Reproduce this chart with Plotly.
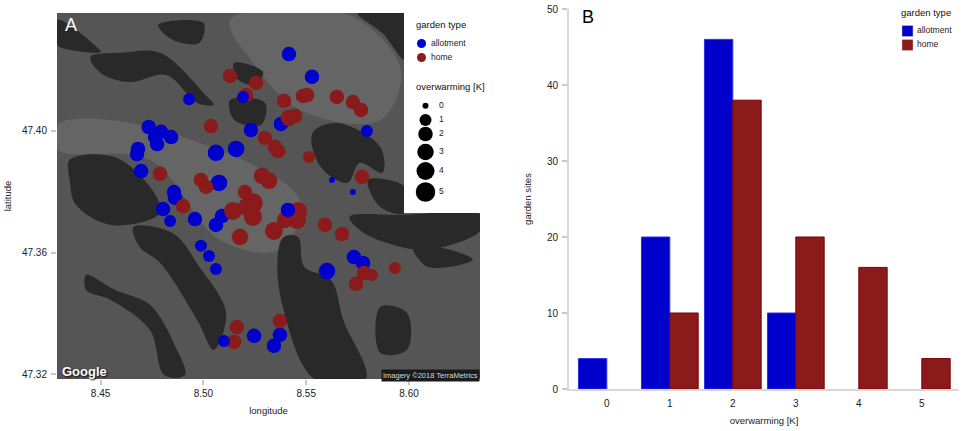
import plotly.graph_objects as go

BLUE = '#0000cd'
RED = '#8b1a1a'
FONT = 'Liberation Sans'

# panel A, sites (size class = overwarming in K)
allot_lon = [8.4930, 8.4734, 8.4794, 8.4765, 8.4843, 8.4775, 8.4682, 8.4677, 8.4697, 8.5061, 8.5159,
             8.5231, 8.5076, 8.4857, 8.4862, 8.4804, 8.4838, 8.4959, 8.5061, 8.5090, 8.4988, 8.5027,
             8.5061, 8.5246, 8.5372, 8.5343, 8.5601, 8.5732, 8.5776, 8.5416, 8.5528, 8.5377, 8.5795,
             8.5625, 8.5727]
allot_lat = [47.4104, 47.4013, 47.3997, 47.3980, 47.3980, 47.3957, 47.3941, 47.3924, 47.3868, 47.3928, 47.3941,
             47.4003, 47.3829, 47.3799, 47.3780, 47.3743, 47.3704, 47.3710, 47.3691, 47.3720, 47.3622, 47.3589,
             47.3546, 47.3326, 47.3329, 47.3293, 47.3539, 47.3585, 47.3566, 47.4253, 47.4178, 47.4023, 47.4000,
             47.3839, 47.3799]
allot_k = [1, 2, 2, 2, 2, 2, 2, 2, 2, 3, 3,
           2, 3, 2, 2, 2, 1, 2, 2, 2, 1, 1,
           1, 2, 2, 2, 3, 2, 2, 2, 2, 2, 1,
           0, 0]

home_lon = [8.5129, 8.5256, 8.5207, 8.5037, 8.5299, 8.5348, 8.5363, 8.4789, 8.4988, 8.5013, 8.5202,
            8.5285, 8.5319, 8.4901, 8.5144, 8.5241, 8.5212, 8.5392, 8.5484, 8.5504, 8.5649, 8.5727,
            8.5766, 8.5416, 8.5445, 8.5513, 8.5771, 8.5460, 8.5455, 8.5397, 8.5241, 8.5343, 8.5178,
            8.5591, 8.5674, 8.5781, 8.5819, 8.5742, 8.5931, 8.5372, 8.5163, 8.5149]
home_lat = [47.4181, 47.4158, 47.4118, 47.4016, 47.3977, 47.3947, 47.3934, 47.3859, 47.3839, 47.3816, 47.3799,
            47.3852, 47.3836, 47.3753, 47.3737, 47.3763, 47.3750, 47.4099, 47.4115, 47.4118, 47.4112, 47.4095,
            47.4069, 47.4043, 47.4049, 47.3914, 47.3849, 47.3737, 47.3707, 47.3707, 47.3717, 47.3671, 47.3651,
            47.3691, 47.3661, 47.3533, 47.3526, 47.3497, 47.3549, 47.3375, 47.3355, 47.3306]
home_k = [2, 2, 2, 2, 2, 2, 2, 2, 2, 2, 2,
          3, 3, 2, 4, 5, 4, 2, 2, 2, 2, 2,
          2, 3, 2, 1, 2, 4, 4, 3, 4, 4, 3,
          2, 2, 2, 1, 2, 1, 2, 2, 2]

# allotments that sit on top of the home gardens
top_lon = [8.5193, 8.5100, 8.5411]
top_lat = [47.4112, 47.3309, 47.3740]
top_k = [1, 1, 2]

k_px = {0: 6, 1: 12, 2: 14.5, 3: 16.5, 4: 18, 5: 19.5}

# panel B
overwarming = [0, 1, 2, 3, 4, 5]
allot_counts = [4, 20, 46, 10, None, None]
home_counts = [None, 10, 38, 20, 16, 4]

# rough shapes of the satellite backdrop
forest_lon = [8.429, 8.447, 8.450, 8.435, 8.429, 8.429, None,
              8.445, 8.460, 8.479, 8.501, 8.505, 8.497, 8.482, 8.464, 8.450, 8.445, None,
              8.478, 8.500, 8.498, 8.485, 8.478, None,
              8.435, 8.458, 8.478, 8.478, 8.455, 8.438, 8.435, 8.435, None,
              8.466, 8.485, 8.498, 8.511, 8.505, 8.497, 8.479, 8.469, 8.466, None,
              8.443, 8.457, 8.474, 8.486, 8.491, 8.481, 8.474, 8.455, 8.443, 8.443, None,
              8.553, 8.565, 8.586, 8.587, 8.576, 8.570, 8.557, 8.553, None,
              8.575, 8.598, 8.598, 8.587, 8.575, None,
              8.580, 8.598, 8.598, 8.586, 8.580, None,
              8.571, 8.596, 8.635, 8.635, 8.609, 8.589, 8.576, 8.571, None,
              8.586, 8.599, 8.599, 8.586, 8.586, None,
              8.602, 8.620, 8.631, 8.609, 8.602, None,
              8.513, 8.530, 8.528, 8.515, 8.513, None,
              8.515, 8.529, 8.525, 8.516, 8.515, None,
              8.539, 8.546, 8.549, 8.562, 8.568, 8.579, 8.554, 8.539, 8.536, 8.539]
forest_lat = [47.4365, 47.4283, 47.426, 47.4267, 47.4283, 47.4365, None,
              47.4243, 47.4257, 47.4257, 47.4118, 47.4086, 47.4092, 47.4184, 47.4161, 47.4191, 47.4243, None,
              47.4349, 47.4355, 47.429, 47.43, 47.4349, None,
              47.3905, 47.3911, 47.3773, 47.3724, 47.3691, 47.3757, 47.3839, 47.3905, None,
              47.3684, 47.3664, 47.3553, 47.3401, 47.328, 47.3378, 47.3566, 47.3618, 47.3684, None,
              47.3526, 47.3477, 47.3428, 47.3296, 47.3197, 47.3197, 47.3345, 47.3444, 47.3477, 47.3526, None,
              47.3993, 47.4026, 47.3947, 47.3862, 47.3895, 47.3829, 47.3882, 47.3993, None,
              47.4388, 47.4388, 47.4234, 47.4322, 47.4388, None,
              47.3839, 47.3816, 47.373, 47.375, 47.3839, None,
              47.3717, 47.3724, 47.3724, 47.3674, 47.3609, 47.3632, 47.3674, 47.3717, None,
              47.3421, 47.3401, 47.328, 47.327, 47.3421, None,
              47.3618, 47.3609, 47.3576, 47.3553, 47.3618, None,
              47.4102, 47.4092, 47.4020, 47.4036, 47.4102, None,
              47.4224, 47.4194, 47.4151, 47.4174, 47.4224, None,
              47.3651, 47.3651, 47.3553, 47.351, 47.3378, 47.3184, 47.3184, 47.3411, 47.3576, 47.3651]
city_lon = [8.513, 8.571, 8.596, 8.586, 8.547, 8.523, 8.513, None,
            8.429, 8.469, 8.547, 8.537, 8.508, 8.474, 8.429, 8.429]
city_lat = [47.4365, 47.4381, 47.4201, 47.4036, 47.4069, 47.4234, 47.4365, None,
            47.4020, 47.4020, 47.3773, 47.3609, 47.3641, 47.3905, 47.3938, 47.4020]

fig = go.Figure()


def add_map(**kw):
    fig.add_trace(go.Scatter(xaxis='x', yaxis='y', showlegend=False, hoverinfo='skip', **kw))


def sites(lon, lat, k, color):
    add_map(x=lon, y=lat, mode='markers',
            marker=dict(color=color, size=[k_px[i] for i in k], opacity=1, line=dict(width=0)))


def patches(lon, lat, color):
    add_map(x=lon, y=lat, mode='lines', line=dict(shape='spline', width=0, color=color),
            fill='toself', fillcolor=color)


patches(city_lon, city_lat, '#656565')
patches(forest_lon, forest_lat, '#292929')
sites(allot_lon, allot_lat, allot_k, BLUE)
sites(home_lon, home_lat, home_k, RED)
sites(top_lon, top_lat, top_k, BLUE)

fig.add_trace(go.Bar(x=overwarming, y=allot_counts, xaxis='x2', yaxis='y2', showlegend=False,
                     marker=dict(color=BLUE, line=dict(color='#3030e0', width=1))))
fig.add_trace(go.Bar(x=overwarming, y=home_counts, xaxis='x2', yaxis='y2', showlegend=False,
                     marker=dict(color=RED, line=dict(color='#7a0000', width=1))))


# legends are hand built on a page sized overlay axis
def add_key(**kw):
    fig.add_trace(go.Scatter(xaxis='x3', yaxis='y3', showlegend=False, hoverinfo='skip', **kw))


def key_text(x, y, labels):
    add_key(x=x, y=y, mode='text', text=labels, textposition='middle right',
            textfont=dict(size=8.5, color='#222222', family=FONT))


add_key(x=[404, 480, 480, 404, 404], y=[12, 12, 213, 213, 12], mode='none', fill='toself', fillcolor='white')
add_key(x=[421.5, 421.5], y=[43.5, 57.5], mode='markers', marker=dict(color=[BLUE, RED], size=9))
key_text([431, 431], [43.5, 57.5], ['allotment', 'home'])
size_y = [105.7, 120, 134, 152, 171, 192]
add_key(x=[425.5] * 6, y=size_y, mode='markers',
        marker=dict(color='black', size=[k_px[k] for k in overwarming], opacity=1, line=dict(width=0)))
key_text([439] * 6, size_y, [str(k) for k in overwarming])
add_key(x=[907.5, 907.5], y=[31, 45], mode='markers',
        marker=dict(color=[BLUE, RED], size=11, symbol='square', line=dict(color='#cccccc', width=0.5)))
key_text([917, 917], [31, 45], ['allotment', 'home'])


def page_text(x, y, text, size, color='#111111', **kw):
    fig.add_annotation(xref='x3', yref='y3', x=x, y=y, text=text, showarrow=False, xanchor='left',
                       font=dict(size=size, color=color, family=FONT), **kw)


page_text(414, 24, 'garden type', 9.5)
page_text(414, 86, 'overwarming [K]', 9.5)
page_text(899, 12, 'garden type', 9.5)
page_text(63, 25, 'A', 18, 'white')
page_text(580, 17, 'B', 18, 'black')
fig.add_annotation(xref='x3', yref='y3', x=60, y=371, text='<b>Google</b>', showarrow=False, xanchor='left',
                   font=dict(size=13, color='white', family=FONT, shadow='1px 1px 2px black'))
fig.add_annotation(xref='x3', yref='y3', x=480, y=375, text='Imagery ©2018 TerraMetrics', showarrow=False,
                   xanchor='right', bgcolor='#1a1a1a', borderpad=1,
                   font=dict(size=7.5, color='#d8d8d8', family=FONT))

tick_font = dict(size=10, color='#222222', family=FONT)
title_font = dict(size=9.5, color='#222222', family=FONT)

fig.update_layout(
    template='none',
    width=964, height=431, margin=dict(l=0, r=0, t=0, b=0),
    paper_bgcolor='white', plot_bgcolor='rgba(0,0,0,0)',
    font=dict(family=FONT), barmode='group', bargap=0.1, bargroupgap=0, hovermode=False,
    shapes=[dict(type='rect', xref='x domain', yref='y domain', x0=0, x1=1, y0=0, y1=1,
                 fillcolor='#555555', line_width=0, layer='below')],
    xaxis=dict(domain=[57 / 964, 480 / 964], range=[8.4288, 8.6345], anchor='y', showgrid=False, zeroline=False,
               tickvals=[8.45, 8.50, 8.55, 8.60], ticktext=['8.45', '8.50', '8.55', '8.60'],
               ticks='outside', ticklen=5, tickcolor='#c8c8c8', tickwidth=1.5, tickfont=tick_font,
               title=dict(text='longitude', font=title_font, standoff=9)),
    yaxis=dict(domain=[1 - 379 / 431, 1 - 13 / 431], range=[47.3184, 47.4388], anchor='x', showgrid=False,
               zeroline=False, tickvals=[47.32, 47.36, 47.40], ticktext=['47.32', '47.36', '47.40'],
               ticks='outside', ticklen=5, tickcolor='#c8c8c8', tickwidth=1.5, tickfont=tick_font,
               ticklabelstandoff=2,
               title=dict(text='latitude', font=title_font, standoff=8)),
    xaxis2=dict(domain=[569 / 964, 959 / 964], range=[-0.6, 5.59], anchor='y2', showgrid=False, zeroline=False,
                tickvals=overwarming, ticks='outside', ticklen=4, tickcolor='white', tickfont=tick_font,
                showline=True, linecolor='#d9d9d9', linewidth=2,
                title=dict(text='overwarming [K]', font=title_font, standoff=9)),
    yaxis2=dict(domain=[1 - 389 / 431, 1 - 9 / 431], range=[0, 50], anchor='x2', showgrid=False, zeroline=False,
                tickvals=[0, 10, 20, 30, 40, 50], ticks='outside', ticklen=5, tickcolor='#c8c8c8', tickwidth=1.5,
                tickfont=tick_font, showline=True, linecolor='#d9d9d9', linewidth=2, ticklabelstandoff=2,
                title=dict(text='garden sites', font=title_font, standoff=14)),
    xaxis3=dict(domain=[0, 1], range=[0, 964], anchor='y3', visible=False),
    yaxis3=dict(domain=[0, 1], range=[431, 0], anchor='x3', visible=False),
)

# the default page has an 8px body margin, which would push the figure off the window
fig.write_html("out.html", config=dict(displayModeBar=False),
               post_script="document.body.style.margin = '0';")
